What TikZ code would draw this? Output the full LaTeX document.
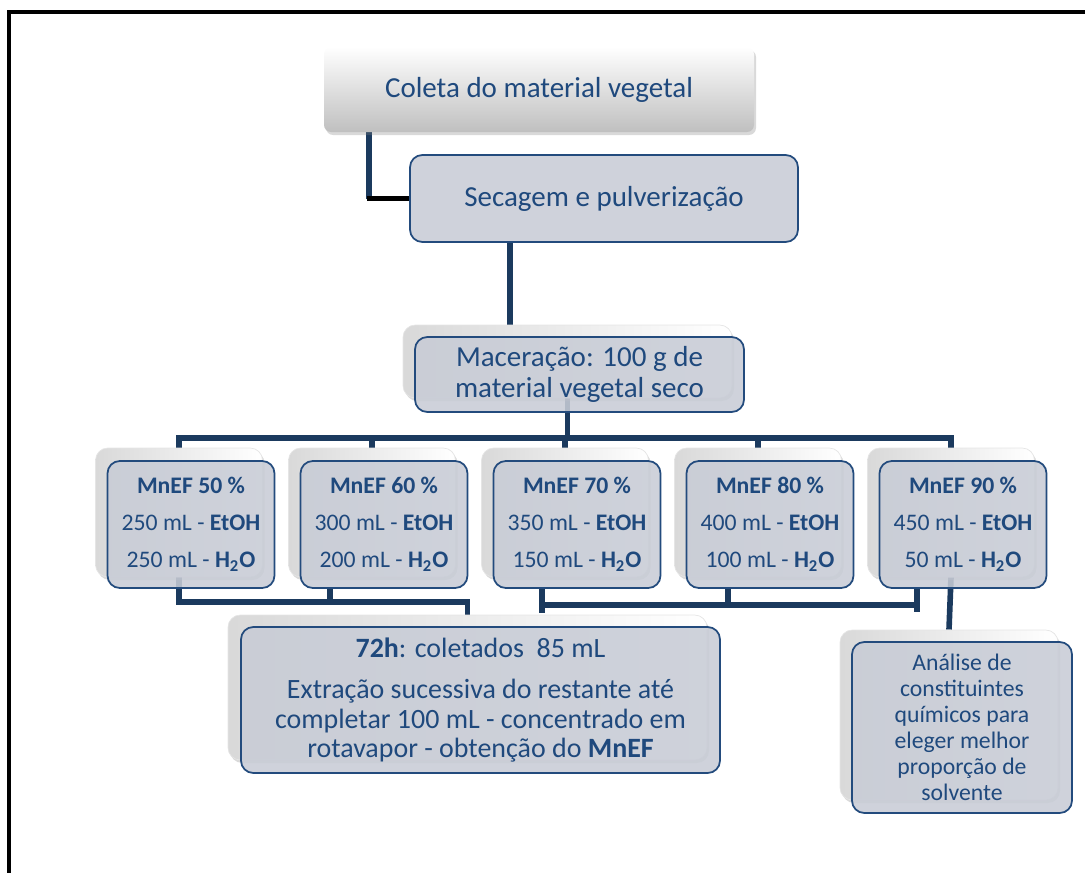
\documentclass[tikz,border=0pt]{standalone}
\usepackage{fontspec}
\setmainfont{Carlito}
\usepackage{tikz}
\usetikzlibrary{shadows,backgrounds}
\definecolor{navy}{RGB}{27,58,94}
\definecolor{txtblue}{RGB}{31,73,125}
\definecolor{boxfill}{RGB}{200,204,214}
\definecolor{boxline}{RGB}{35,75,125}

\begin{document}
\begin{tikzpicture}[
    conn/.style={line width=3.2pt,navy},
    topbox/.style={rectangle,rounded corners=4pt,top color=white,bottom color=gray!50,
        drop shadow={opacity=0.3,shadow xshift=0.04cm,shadow yshift=-0.06cm}},
    backbox/.style={rectangle,rounded corners=7pt,draw=gray!20,left color=gray!30,right color=white,
        drop shadow={opacity=0.3,shadow xshift=0.04cm,shadow yshift=-0.06cm}},
    frontbox/.style={rectangle,rounded corners=7pt,draw=boxline,line width=1pt,fill=boxfill,
        fill opacity=0.88,text opacity=1,text=txtblue,align=center},
    bigtxt/.style={text=txtblue,align=center,font=\fontsize{16.5}{17.3}\selectfont},
    exttxt/.style={font=\fontsize{15.9}{16.8}\selectfont},
    mneftxt/.style={font=\fontsize{13.5}{21}\selectfont},
    smalltxt/.style={font=\fontsize{13.5}{14.8}\selectfont}]
    \useasboundingbox (0,0) rectangle (21.7,-17.46);
    \draw[line width=2pt] (0.18,-18) -- (0.18,-0.24) -- (22,-0.24);

    \node (coleta) at (10.78,-1.79) [topbox,bigtxt,minimum width=8.6cm,minimum height=1.7cm] {Coleta do material vegetal};
    \node (secagem) at (12.08,-3.97) [frontbox,bigtxt,minimum width=7.76cm,minimum height=1.74cm] {Secagem e pulverização};

    \node (macb) at (11.35,-7.23) [backbox,minimum width=6.58cm,minimum height=1.46cm] {};
    \node (mac) at (11.59,-7.49) [frontbox,bigtxt,minimum width=6.58cm,minimum height=1.5cm] {Maceração: 100 g de\\material vegetal seco};

    \node (m50b) at (3.58,-10.25) [backbox,minimum width=3.34cm,minimum height=2.58cm] {};
    \node (m50) at (3.82,-10.49) [frontbox,mneftxt,minimum width=3.34cm,minimum height=2.54cm] {\textbf{MnEF 50 \%}\\250 mL - \textbf{EtOH}\\250 mL - \textbf{H\textsubscript{2}O}};
    \node (m60b) at (7.44,-10.25) [backbox,minimum width=3.34cm,minimum height=2.58cm] {};
    \node (m60) at (7.68,-10.49) [frontbox,mneftxt,minimum width=3.34cm,minimum height=2.54cm] {\textbf{MnEF 60 \%}\\300 mL - \textbf{EtOH}\\200 mL - \textbf{H\textsubscript{2}O}};
    \node (m70b) at (11.30,-10.25) [backbox,minimum width=3.34cm,minimum height=2.58cm] {};
    \node (m70) at (11.54,-10.49) [frontbox,mneftxt,minimum width=3.34cm,minimum height=2.54cm] {\textbf{MnEF 70 \%}\\350 mL - \textbf{EtOH}\\150 mL - \textbf{H\textsubscript{2}O}};
    \node (m80b) at (15.16,-10.25) [backbox,minimum width=3.34cm,minimum height=2.58cm] {};
    \node (m80) at (15.40,-10.49) [frontbox,mneftxt,minimum width=3.34cm,minimum height=2.54cm] {\textbf{MnEF 80 \%}\\400 mL - \textbf{EtOH}\\100 mL - \textbf{H\textsubscript{2}O}};
    \node (m90b) at (19.02,-10.25) [backbox,minimum width=3.34cm,minimum height=2.58cm] {};
    \node (m90) at (19.26,-10.49) [frontbox,mneftxt,minimum width=3.34cm,minimum height=2.54cm] {\textbf{MnEF 90 \%}\\450 mL - \textbf{EtOH}\\50 mL - \textbf{H\textsubscript{2}O}};

    \node (extb) at (9.35,-13.75) [backbox,minimum width=9.58cm,minimum height=2.9cm] {};
    \node (ext) at (9.61,-14.0) [frontbox,exttxt,minimum width=9.58cm,minimum height=2.92cm] {\textbf{72h}: coletados\ \ 85 mL\\[7pt]Extração sucessiva do restante até\\completar 100 mL - concentrado em\\rotavapor - obtenção do \textbf{MnEF}};

    \node (anab) at (18.98,-14.3) [backbox,minimum width=4.36cm,minimum height=3.4cm] {};
    \node (ana) at (19.24,-14.55) [frontbox,smalltxt,minimum width=4.4cm,minimum height=3.42cm] {Análise de\\constituintes\\químicos para\\eleger melhor\\proporção de\\solvente};

    \coordinate (busA) at (0,-8.76);
    \coordinate (busB) at (0,-12.04);
    \coordinate (busC) at (0,-12.1);
    \begin{pgfonlayer}{background}
        \draw[conn] (coleta.south -| 7.38,0) -- (secagem.west -| 7.38,0);
        \draw[conn,black] (secagem.west -| 7.33,0) -- (secagem.west);
        \draw[conn] (secagem.south -| 10.2,0) -- (macb.north -| 10.2,0);
        \draw[conn] (macb.south) -- (macb.south |- busA);
        \draw[conn] (m50b.north) |- (busA -| m90b.north) -- (m90b.north);
        \draw[conn] (m60b.north |- busA) -- (m60b.north);
        \draw[conn] (m70b.north |- busA) -- (m70b.north);
        \draw[conn] (m80b.north |- busA) -- (m80b.north);
        % left group goes to the 72h box
        \draw[conn] (m50b.south) |- (busB -| extb.north) -- (extb.north);
        \draw[conn] (m60.south -| 6.6,0) -- (busB -| 6.6,0);
        \draw[conn] (m70.south -| 10.84,0) -- (10.84,-12.26);
        \draw[conn] (busC -| 10.84,0) -- (busC -| 18.34,0);
        \draw[conn] (m80.south -| 14.56,0) -- (busC -| 14.56,0);
        \draw[conn] (m90.south -| 18.34,0) -- (18.34,-12.24);
        \draw[conn] (m90b.south) -- (anab.north);
    \end{pgfonlayer}
\end{tikzpicture}
\end{document}
